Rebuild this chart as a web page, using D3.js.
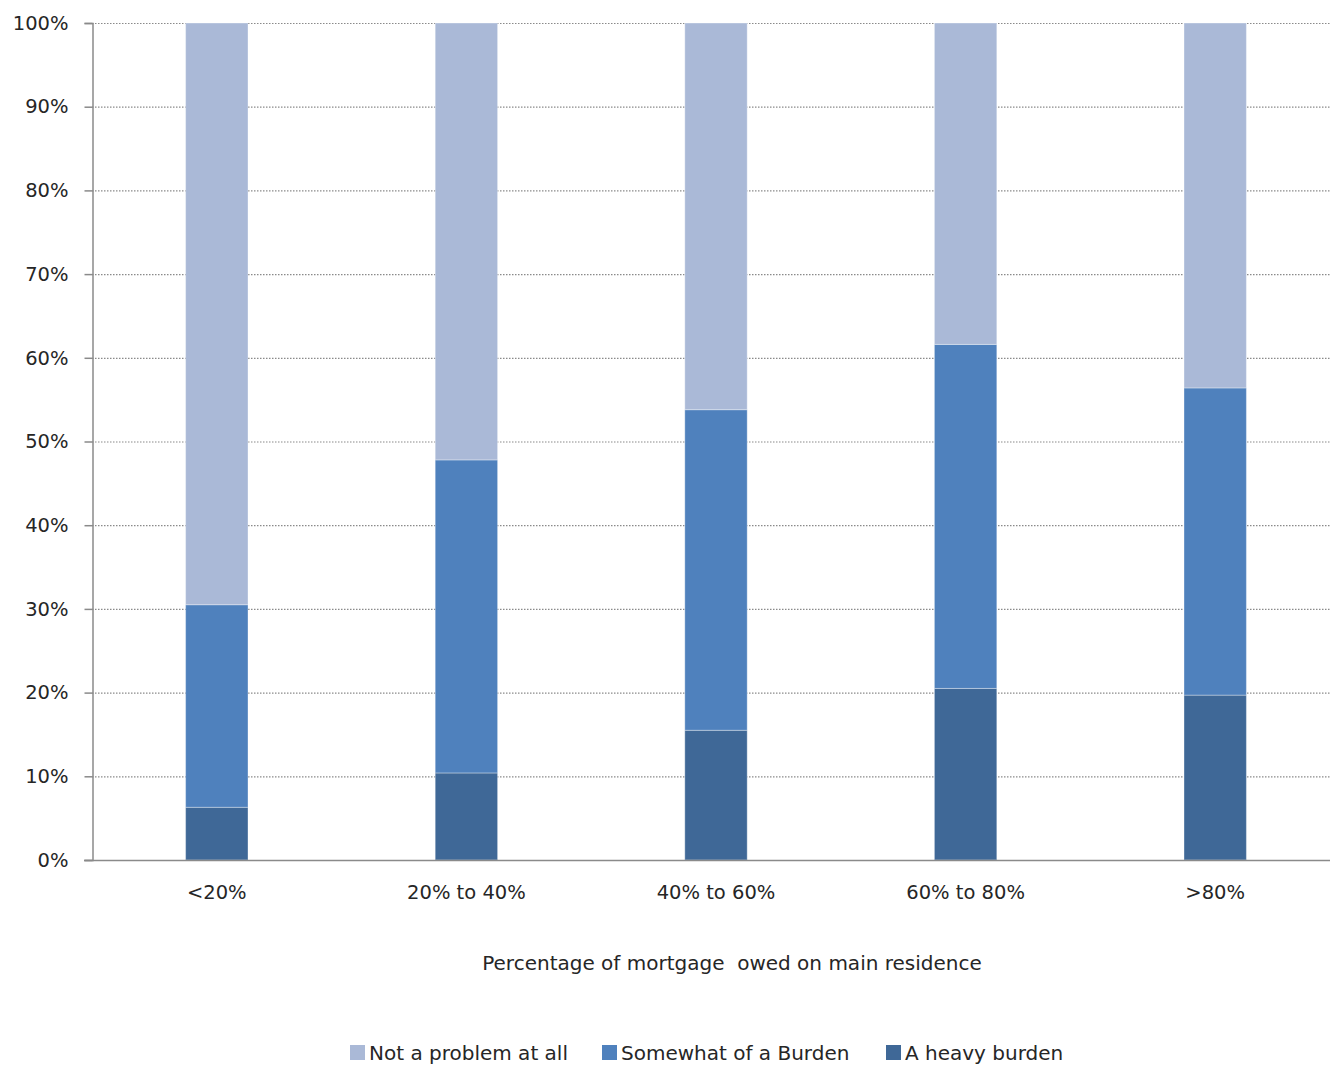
<!DOCTYPE html>
<html>
<head>
<meta charset="utf-8">
<script src="https://cdn.jsdelivr.net/npm/d3@7"></script>
<style>
  html, body { margin: 0; padding: 0; background: #fff; }
  svg { display: block; font-family: "DejaVu Sans", Verdana, sans-serif; }
</style>
</head>
<body>
<svg id="chart" width="1330" height="1066"></svg>
<script>
const categories = ["<20%", "20% to 40%", "40% to 60%", "60% to 80%", ">80%"];
const seriesNames = ["A heavy burden", "Somewhat of a Burden", "Not a problem at all"];
const heavyBurden = [6.3, 10.4, 15.5, 20.5, 19.7];
const somewhatBurden = [24.2, 37.4, 38.3, 41.1, 36.7];
const notProblem = [69.5, 52.2, 46.2, 38.4, 43.6];
const yTicks = [0, 10, 20, 30, 40, 50, 60, 70, 80, 90, 100];
const legendOrder = ["Not a problem at all", "Somewhat of a Burden", "A heavy burden"];
const xTitle = "Percentage of mortgage  owed on main residence";

const colors = {
  "A heavy burden": "#3F6897",
  "Somewhat of a Burden": "#4F81BD",
  "Not a problem at all": "#AAB9D7"
};
const FONT = "'DejaVu Sans', Verdana, sans-serif";
const TEXT = "#262626";

const svg = d3.select("#chart");
const mLeft = 92, mTop = 23, mBottom = 860, mRight = 1340;

const x = d3.scaleBand().domain(categories).range([mLeft, mRight]).paddingInner(0.75).paddingOuter(0.375);
const y = d3.scaleLinear().domain([0, 100]).range([mBottom, mTop]);

// gridlines
svg.append("g").selectAll("line").data(yTicks.filter(d => d > 0)).join("line")
  .attr("x1", mLeft).attr("x2", 1330)
  .attr("y1", d => y(d) + 0.5).attr("y2", d => y(d) + 0.5)
  .attr("stroke", "#8a8a8a").attr("stroke-width", 1.2).attr("stroke-dasharray", "1.5,1.5");

// stacked data
const rows = categories.map((c, i) => ({
  cat: c,
  "A heavy burden": heavyBurden[i],
  "Somewhat of a Burden": somewhatBurden[i],
  "Not a problem at all": notProblem[i]
}));
const stack = d3.stack().keys(seriesNames)(rows);

svg.append("g").selectAll("g").data(stack).join("g")
  .attr("fill", d => colors[d.key])
  .selectAll("rect").data(d => d).join("rect")
  .attr("x", d => x(d.data.cat))
  .attr("width", x.bandwidth())
  .attr("y", d => y(d[1]))
  .attr("height", d => y(d[0]) - y(d[1]))
  .attr("stroke", "rgba(255,255,255,0.35)").attr("stroke-width", 1);

// y axis
const yAxis = d3.axisLeft(y).tickValues(yTicks).tickFormat(d => d + "%").tickSize(8).tickPadding(16);
const gy = svg.append("g").attr("transform", `translate(${mLeft + 0.5},0)`).call(yAxis);
gy.select(".domain").attr("stroke", "#8a8a8a").attr("stroke-width", 1.5);
gy.selectAll(".tick line").attr("stroke", "#8a8a8a").attr("stroke-width", 1.5);
gy.selectAll(".tick text").attr("fill", TEXT).attr("font-size", 19.5).attr("font-family", FONT);

// x axis baseline
const xAxis = d3.axisBottom(x).tickSize(0).tickPadding(25);
const gx = svg.append("g").attr("transform", `translate(0,${mBottom + 0.5})`).call(xAxis);
gx.select(".domain").attr("stroke", "#8a8a8a").attr("stroke-width", 1.5).attr("d", `M${mLeft - 8},0H1330`);
gx.selectAll(".tick text").attr("fill", TEXT).attr("font-size", 19.5).attr("font-family", FONT);

// x title
svg.append("text").attr("x", 732).attr("y", 970).attr("text-anchor", "middle")
  .attr("font-size", 20).attr("font-family", FONT).attr("fill", TEXT)
  .attr("xml:space", "preserve").style("white-space", "pre").text(xTitle);

// legend
const legendX = [350, 602, 886];
const lg = svg.append("g").selectAll("g").data(legendOrder).join("g")
  .attr("transform", (d, i) => `translate(${legendX[i]},1045)`);
lg.append("rect").attr("width", 15).attr("height", 15).attr("fill", d => colors[d]);
lg.append("text").attr("x", 19).attr("y", 15).attr("font-size", 20).attr("font-family", FONT).attr("fill", TEXT).text(d => d);
</script>
</body>
</html>
